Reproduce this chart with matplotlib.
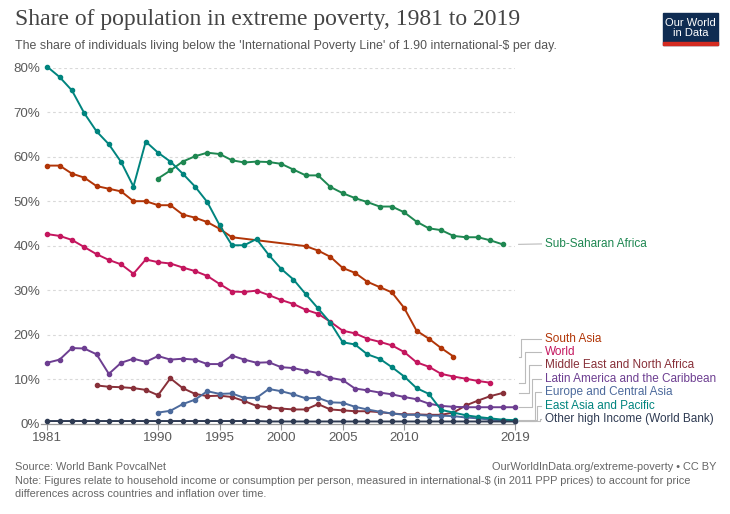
import matplotlib
matplotlib.use("Agg")
import matplotlib.pyplot as plt
from matplotlib.patches import Rectangle

# ---------------- data ----------------
eap_years = list(range(1981, 2020))
eap_vals = [80.2, 77.9, 74.9, 69.8, 65.7, 62.8, 58.8, 53.3, 63.4, 60.9,
            58.9, 56.2, 53.3, 49.8, 44.6, 40.1, 40.1, 41.5, 37.9, 34.8,
            32.4, 29.1, 25.9, 22.7, 18.3, 17.8, 15.6, 14.6, 12.7, 10.6,
            8.0, 6.7, 3.1, 2.5, 1.9, 1.5, 1.2, 0.9, 0.8]

ssa_years = list(range(1990, 2019))
ssa_vals = [55.1, 56.9, 58.9, 60.1, 60.9, 60.6, 59.2, 58.7, 58.9, 58.8,
            58.4, 57.1, 55.8, 55.8, 53.2, 51.8, 50.7, 49.8, 48.8, 48.8,
            47.5, 45.4, 43.9, 43.5, 42.2, 41.9, 41.9, 41.2, 40.3]

sa_years = list(range(1981, 1997)) + list(range(2002, 2015))
sa_vals = [58.0, 58.0, 56.2, 55.3, 53.4, 52.8, 52.2, 50.0, 50.0, 49.1,
           49.1, 47.0, 46.3, 45.3, 43.8, 41.9,
           39.9, 38.9, 37.5, 35.0, 33.9, 31.9, 30.7, 29.5, 26.0, 20.9,
           19.1, 17.0, 15.1]

world_years = list(range(1981, 2018))
world_vals = [42.6, 42.2, 41.3, 39.7, 38.1, 36.8, 35.8, 33.7, 36.9, 36.3,
              36.0, 35.1, 34.3, 33.2, 31.4, 29.7, 29.6, 29.9, 28.9, 27.8,
              26.9, 25.6, 24.7, 22.9, 20.9, 20.3, 19.1, 18.4, 17.6, 16.1,
              13.8, 12.8, 11.2, 10.6, 10.1, 9.6, 9.2]

mena_years = list(range(1985, 2019))
mena_vals = [8.6, 8.3, 8.2, 8.0, 7.6, 6.4, 10.2, 8.0, 6.7, 6.2,
             6.3, 6.0, 5.1, 4.0, 3.7, 3.4, 3.2, 3.2, 4.4, 3.2,
             3.0, 2.8, 2.8, 2.6, 2.3, 2.1, 2.1, 2.0, 2.0, 2.5,
             4.1, 5.2, 6.2, 6.9]

lac_years = list(range(1981, 2020))
lac_vals = [13.7, 14.4, 17.0, 16.9, 15.6, 11.2, 13.7, 14.6, 13.9, 15.2,
            14.4, 14.6, 14.4, 13.4, 13.4, 15.3, 14.4, 13.7, 13.8, 12.7,
            12.5, 11.9, 11.4, 10.3, 9.8, 7.9, 7.5, 7.0, 6.6, 6.0,
            5.5, 4.5, 4.0, 3.8, 3.7, 3.7, 3.7, 3.7, 3.7]

eca_years = list(range(1990, 2020))
eca_vals = [2.5, 2.9, 4.4, 5.4, 7.3, 6.7, 6.8, 5.8, 5.8, 7.8,
            7.3, 6.6, 5.7, 5.8, 4.8, 4.7, 3.8, 3.2, 2.7, 2.3,
            2.0, 2.0, 1.8, 1.8, 1.7, 1.4, 1.2, 0.9, 0.7, 0.6]

ohi_years = list(range(1981, 2020))
ohi_vals = [0.6, 0.6, 0.6, 0.6, 0.6, 0.6, 0.6, 0.6, 0.6, 0.6,
            0.6, 0.6, 0.6, 0.6, 0.6, 0.6, 0.6, 0.6, 0.5, 0.5,
            0.5, 0.5, 0.5, 0.5, 0.5, 0.5, 0.5, 0.5, 0.5, 0.5,
            0.5, 0.5, 0.5, 0.5, 0.5, 0.5, 0.5, 0.5, 0.5]

series = [
    ("Sub-Saharan Africa", ssa_years, ssa_vals, "#1E8751"),
    ("South Asia", sa_years, sa_vals, "#B13507"),
    ("World", world_years, world_vals, "#C4165E"),
    ("Middle East and North Africa", mena_years, mena_vals, "#883039"),
    ("Latin America and the Caribbean", lac_years, lac_vals, "#6D3E91"),
    ("Europe and Central Asia", eca_years, eca_vals, "#4C6A9C"),
    ("East Asia and Pacific", eap_years, eap_vals, "#00847E"),
    ("Other high Income (World Bank)", ohi_years, ohi_vals, "#2E3A52"),
]

x_ticks = [1981, 1990, 1995, 2000, 2005, 2010, 2019]
y_ticks = [0, 10, 20, 30, 40, 50, 60, 70, 80]

# label y-positions (in % units) and connector elbow x (years)
label_y = [40.4, 19.0, 16.1, 13.2, 10.0, 7.1, 4.0, 1.1]
elbow_x = [2019.9, 2019.5, 2019.8, 2020.1, 2020.4, 2020.6, 2020.8, 2021.0]

# ---------------- figure ----------------
W, H = 730, 514
fig = plt.figure(figsize=(W / 100, H / 100), dpi=100)
fig.patch.set_facecolor("white")

x0px, x1px = 47.3, 515.0
y0px, y1px = 423.7, 67.7
ax = fig.add_axes([x0px / W, 1 - y0px / H, (x1px - x0px) / W, (y0px - y1px) / H])
ax.set_xlim(1981, 2019)
ax.set_ylim(0, 80)

for yv in y_ticks[1:]:
    ax.axhline(yv, color="#d9d9d9", lw=0.8, ls=(0, (2.5, 2.5)), zorder=0)

for name, xs, ys, col in series:
    ax.plot(xs, ys, color=col, lw=1.4, marker="o", ms=3.0, clip_on=False, zorder=3)

for sp in ["top", "right", "left"]:
    ax.spines[sp].set_visible(False)
ax.spines["bottom"].set_color("#999999")
ax.spines["bottom"].set_linewidth(0.9)
ax.spines["bottom"].set_bounds(1980.5, 2019)

ax.set_xticks(x_ticks)
ax.set_xticklabels([str(t) for t in x_ticks])
ax.tick_params(axis="x", length=4, color="#999999", labelcolor="#5b5b5b",
               labelsize=9.6, pad=2)
ax.set_yticks(y_ticks)
ax.set_yticklabels([f"{t}%" for t in y_ticks])
ax.tick_params(axis="y", length=0, labelcolor="#5b5b5b", labelsize=9.6, pad=5)
for lab in ax.get_xticklabels() + ax.get_yticklabels():
    lab.set_family("Liberation Sans")

# right-hand labels with connectors
label_x = 2021.45
for (name, xs, ys, col), ly, ex in zip(series, label_y, elbow_x):
    end_y = ys[-1]
    start_x = 2019.3
    if name == "Sub-Saharan Africa":
        ax.plot([start_x, label_x - 0.3], [end_y, ly], color="#bbbbbb", lw=0.8,
                clip_on=False)
    else:
        ax.plot([start_x, ex, ex, label_x - 0.3], [end_y, end_y, ly, ly],
                color="#bbbbbb", lw=0.8, clip_on=False)
    ax.text(label_x, ly, name, color=col, fontsize=8.5, va="center", ha="left",
            family="Liberation Sans")

# ---------------- titles ----------------
fig.text(15 / W, 1 - 20 / H, "Share of population in extreme poverty, 1981 to 2019",
         fontsize=17, family="Liberation Serif", color="#444444", va="center")
fig.text(15 / W, 1 - 46 / H,
         "The share of individuals living below the 'International Poverty Line' of 1.90 international-$ per day.",
         fontsize=8.9, family="Liberation Sans", color="#555555", va="center")

# footer
foot_fs = 7.9
fig.text(15 / W, 1 - 467 / H, "Source: World Bank PovcalNet", fontsize=foot_fs,
         family="Liberation Sans", color="#666666", va="center")
fig.text(716 / W, 1 - 467 / H, "OurWorldInData.org/extreme-poverty • CC BY",
         fontsize=foot_fs, family="Liberation Sans", color="#666666", va="center", ha="right")
fig.text(15 / W, 1 - 481 / H,
         "Note: Figures relate to household income or consumption per person, measured in international-$ (in 2011 PPP prices) to account for price",
         fontsize=foot_fs, family="Liberation Sans", color="#666666", va="center")
fig.text(15 / W, 1 - 494 / H,
         "differences across countries and inflation over time.",
         fontsize=foot_fs, family="Liberation Sans", color="#666666", va="center")

# logo
lx0, ly0, lw_, lh_ = 663, 13, 55, 32
fig.patches.append(Rectangle((lx0 / W, 1 - (ly0 + lh_) / H), lw_ / W, lh_ / H,
                             transform=fig.transFigure, color="#0F2C52", zorder=5))
fig.patches.append(Rectangle((lx0 / W, 1 - (ly0 + lh_) / H), lw_ / W, 3 / H,
                             transform=fig.transFigure, color="#D42B21", zorder=6))
fig.text((lx0 + lw_ / 2) / W, 1 - (ly0 + 15) / H, "Our World\nin Data", color="white",
         fontsize=8, ha="center", va="center", family="Liberation Sans",
         linespacing=1.0, zorder=7)

fig.savefig("out.png", dpi=100, facecolor="white")
